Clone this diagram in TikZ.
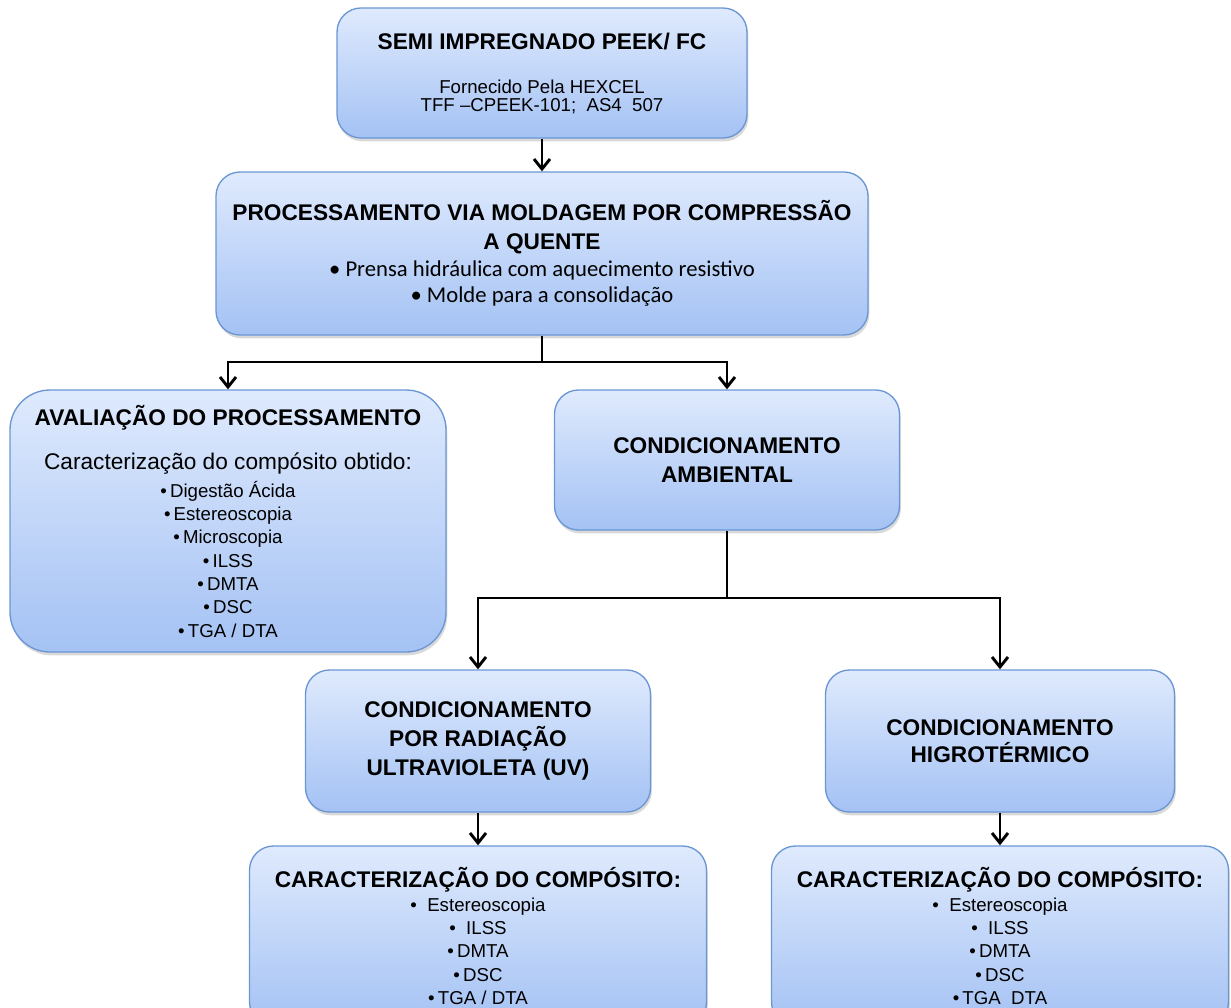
\documentclass[tikz,border=0pt]{standalone}
\usepackage{fontspec}
\setmainfont{Liberation Sans}
\newfontfamily\calibri{Carlito}
\usetikzlibrary{arrows.meta,shadows}

\definecolor{boxtop}{HTML}{DFEAFD}
\definecolor{boxbottom}{HTML}{A4C2F4}
\definecolor{boxline}{HTML}{6B96D4}

\newcommand{\hd}{\bfseries\fontsize{17}{21.5}\selectfont}
\newcommand{\tx}{\mdseries\fontsize{14}{17.5}\selectfont}
\newcommand{\subtx}{\mdseries\fontsize{14}{13.5}\selectfont}
\newcommand{\leadtx}{\mdseries\fontsize{17}{21}\selectfont}
\newcommand{\calbody}{\calibri\mdseries\fontsize{17}{20}\selectfont}

\begin{document}
\begin{tikzpicture}[x=0.75pt,y=-0.75pt,>={Straight Barb[length=7.5pt,width=12pt]},
  flow/.style={line width=2.2pt},
  boxsize/.style 2 args={minimum width=#1*0.75pt,minimum height=#2*0.75pt},
  box/.style={draw=boxline,line width=1pt,rounded corners=18pt,top color=boxtop,bottom color=boxbottom,
    inner sep=0pt,align=center,font=\hd,drop shadow={shadow xshift=1pt,shadow yshift=-2.5pt,opacity=0.3}}]
  \useasboundingbox (0,0) rectangle (1231,1007);

  \node[box,boxsize={410}{130}] (semi) at (542,73) {\hd SEMI IMPREGNADO PEEK/ FC\\[11.5pt]
    \subtx Fornecido Pela HEXCEL\\[-8pt]\subtx TFF --CPEEK-101;\ \ AS4\ \ 507};
  \node[box,boxsize={652}{163}] (proc) at (542,253.5) {PROCESSAMENTO VIA MOLDAGEM POR COMPRESSÃO\\A QUENTE\\[-1pt]
    \calbody • Prensa hidráulica com aquecimento resistivo\\[-2pt]\calbody • Molde para a consolidação};
  \node[box,boxsize={436}{262},rounded corners=30pt,font=\tx] (aval) at (228,521) {\hd AVALIAÇÃO DO PROCESSAMENTO\\[15.5pt]
    \leadtx Caracterização do compósito obtido:\\[3.5pt]
    •\,Digestão Ácida\\•\,Estereoscopia\\•\,Microscopia\\•\,ILSS\\•\,DMTA\\•\,DSC\\•\,TGA / DTA};
  \node[box,boxsize={345}{140}] (amb) at (727,460) {CONDICIONAMENTO\\AMBIENTAL};
  \node[box,boxsize={345}{142}] (uv) at (478,741) {CONDICIONAMENTO\\POR RADIAÇÃO\\ULTRAVIOLETA (UV)};
  \node[box,boxsize={349}{142}] (higro) at (1000,741) {CONDICIONAMENTO\\[-1.25pt]HIGROTÉRMICO};
  \node[box,boxsize={457}{180},font=\tx] (caracuv) at (478,936) {\hd CARACTERIZAÇÃO DO COMPÓSITO:\\
    •\ \ Estereoscopia\\•\ \ ILSS\\•\,DMTA\\•\,DSC\\•\,TGA / DTA};
  \node[box,boxsize={457}{180},font=\tx] (caracht) at (1000,936) {\hd CARACTERIZAÇÃO DO COMPÓSITO:\\
    •\ \ Estereoscopia\\•\ \ ILSS\\•\,DMTA\\•\,DSC\\•\,TGA\ \ DTA};

  % connectors
  \coordinate (split1) at (542,362);
  \coordinate (split2) at (727,598);
  \draw[flow,->] (semi) -- (proc);
  \draw[flow] (proc) -- (split1);
  \draw[flow,->] (split1) -| (aval);
  \draw[flow,->] (split1) -| (amb);
  \draw[flow] (amb) -- (split2);
  \draw[flow,->] (split2) -| (uv);
  \draw[flow,->] (split2) -| (higro);
  \draw[flow,->] (uv) -- (caracuv);
  \draw[flow,->] (higro) -- (caracht);
\end{tikzpicture}
\end{document}
